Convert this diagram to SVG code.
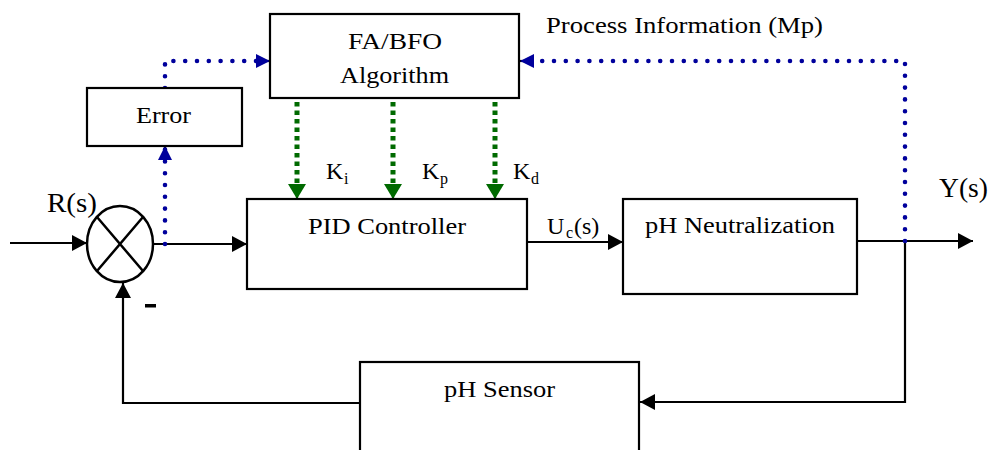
<svg xmlns="http://www.w3.org/2000/svg" width="989" height="450" viewBox="0 0 989 450">
<style>
  .box{fill:#fff;stroke:#000;stroke-width:2.2}
  text{fill:#000}
  .ln{fill:none;stroke:#000;stroke-width:2.2}
  .dot{fill:none;stroke:#00009C;stroke-width:4.6;stroke-linecap:round;stroke-dasharray:0 11.8}
  .gd{fill:none;stroke:#006A00;stroke-width:5;stroke-dasharray:4.5 4}
</style>
<defs>
  <marker id="ab" markerUnits="userSpaceOnUse" markerWidth="16" markerHeight="16" refX="15" refY="8" orient="auto">
    <path d="M0,0 L15,8 L0,16 z" fill="#000"/>
  </marker>
  <marker id="abl" markerUnits="userSpaceOnUse" markerWidth="15" markerHeight="16" refX="14" refY="8" orient="auto">
    <path d="M0,1 L14,8 L0,15 z" fill="#00009C"/>
  </marker>
  <marker id="ag" markerUnits="userSpaceOnUse" markerWidth="16" markerHeight="18" refX="15" refY="9" orient="auto">
    <path d="M0,0 L15,9 L0,18 z" fill="#006A00"/>
  </marker>
</defs>
<rect width="989" height="450" fill="#fff"/>

<g id="connectors">
  <path class="ln" d="M10,243 H87" marker-end="url(#ab)"/>
  <path class="ln" d="M153,244 H247" marker-end="url(#ab)"/>
  <path class="ln" d="M527,242 H623" marker-end="url(#ab)"/>
  <path class="ln" d="M857,241 H973" marker-end="url(#ab)"/>
  <path class="ln" d="M905,241 V402 H640" marker-end="url(#ab)"/>
  <path class="ln" d="M360,403 H123 V283" marker-end="url(#ab)"/>
  <path class="dot" d="M165,244 V148"/>
  <path class="ln" d="M165,160 V146" stroke="none" marker-end="url(#abl)"/>
  <path class="dot" d="M165,88 V61 H258"/>
  <path class="ln" d="M258,61 H270" stroke="none" marker-end="url(#abl)"/>
  <path class="dot" d="M905,241 V61 H534"/>
  <path class="ln" d="M534,61 H520" stroke="none" marker-end="url(#abl)"/>
  <path class="gd" d="M297,102 V184"/>
  <path class="gd" d="M393,102 V184"/>
  <path class="gd" d="M495,102 V184"/>
  <path class="ln" d="M297,184 V199" stroke="none" marker-end="url(#ag)"/>
  <path class="ln" d="M393,184 V199" stroke="none" marker-end="url(#ag)"/>
  <path class="ln" d="M495,184 V199" stroke="none" marker-end="url(#ag)"/>
</g>

<g id="sum">
  <ellipse cx="120" cy="244" rx="33" ry="38" fill="#fff" stroke="#000" stroke-width="2.5"/>
  <path d="M97,217 L143,271 M143,217 L97,271" stroke="#000" stroke-width="2.5" fill="none"/>
</g>

<g font-family="'Liberation Serif', 'Times New Roman', Tinos, serif" font-size="24">
<g id="fabfo">
  <rect class="box" x="270" y="14" width="249" height="84"/>
  <text x="348" y="49" textLength="94" lengthAdjust="spacingAndGlyphs">FA/BFO</text>
  <text x="340" y="83" textLength="109" lengthAdjust="spacingAndGlyphs">Algorithm</text>
</g>

<g id="error">
  <rect class="box" x="87" y="88" width="155" height="58"/>
  <text x="136" y="123" textLength="55" lengthAdjust="spacingAndGlyphs">Error</text>
</g>

<g id="pid">
  <rect class="box" x="247" y="199" width="280" height="90"/>
  <text x="308" y="234" textLength="158" lengthAdjust="spacingAndGlyphs">PID Controller</text>
</g>

<g id="neutral">
  <rect class="box" x="623" y="199" width="234" height="95"/>
  <text x="645" y="233" textLength="190" lengthAdjust="spacingAndGlyphs">pH Neutralization</text>
</g>

<g id="sensor">
  <rect class="box" x="360" y="362" width="279" height="100"/>
  <text x="444" y="397" textLength="111" lengthAdjust="spacingAndGlyphs">pH Sensor</text>
</g>

<g id="labels">
  <text x="546" y="33" textLength="277" lengthAdjust="spacingAndGlyphs">Process Information (Mp)</text>
  <text x="47" y="212" font-size="27" textLength="50" lengthAdjust="spacingAndGlyphs">R(s)</text>
  <text x="939" y="197" font-size="27" textLength="49" lengthAdjust="spacingAndGlyphs">Y(s)</text>
  <text><tspan x="547" y="234">U</tspan><tspan font-size="16" x="566" y="238">c</tspan><tspan x="574" y="234">(s)</tspan></text>
  <text><tspan x="326" y="179">K</tspan><tspan font-size="16" x="344" y="184">i</tspan></text>
  <text><tspan x="422" y="179">K</tspan><tspan font-size="16" x="440" y="184">p</tspan></text>
  <text><tspan x="513" y="179">K</tspan><tspan font-size="16" x="531" y="184">d</tspan></text>
  <rect x="145" y="304" width="11" height="3.5" fill="#000"/>
</g>
</g>
</svg>
